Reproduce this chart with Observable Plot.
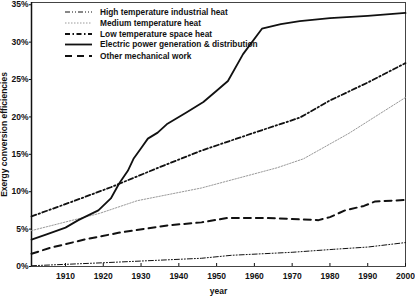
<!DOCTYPE html>
<html><head><meta charset="utf-8">
<script src="https://cdn.jsdelivr.net/npm/d3@7"></script>
<script src="https://cdn.jsdelivr.net/npm/@observablehq/plot@0.6"></script>
<style>
body{margin:0;background:#fff}
#c{position:relative;width:415px;height:305px}
#c svg{display:block}
#legend{position:absolute;left:0;top:0}
</style>
</head><body><div id="c"></div>
<script>
// Series names (legend order)
const seriesNames = ["High temperature industrial heat","Medium temperature heat","Low temperature space heat","Electric power generation & distribution","Other mechanical work"];

const highYears = [1901, 1920, 1946, 1954, 1970, 1981, 1990, 2000];
const highVals  = [0.1, 0.5, 1.1, 1.5, 1.9, 2.3, 2.6, 3.2];

const mediumYears = [1901, 1919, 1929, 1946, 1966, 1973, 1985, 2000];
const mediumVals  = [4.8, 7.1, 8.8, 10.5, 13.2, 14.4, 17.8, 22.6];

const lowYears = [1901, 1913, 1922, 1935, 1946, 1960, 1972, 1980, 1990, 2000];
const lowVals  = [6.7, 8.9, 10.6, 13.3, 15.5, 17.9, 19.9, 22.2, 24.6, 27.2];

const elecYears = [1901, 1905, 1910, 1913.4, 1918.7, 1922, 1924.2, 1926.5, 1928, 1930, 1931.8, 1934.4, 1937, 1942, 1946.5, 1950, 1953, 1957, 1962, 1967, 1972, 1980, 1990, 2000];
const elecVals  = [3.6, 4.3, 5.2, 6.2, 7.5, 9.1, 11.1, 12.8, 14.4, 15.8, 17.1, 17.9, 19.1, 20.6, 22.0, 23.5, 24.8, 28.4, 31.8, 32.4, 32.8, 33.2, 33.5, 33.9];

const otherYears = [1901, 1906, 1915, 1924, 1937, 1946, 1953, 1963, 1972, 1977, 1980, 1984, 1989, 1992, 2000];
const otherVals  = [1.7, 2.5, 3.6, 4.5, 5.5, 5.9, 6.5, 6.5, 6.3, 6.2, 6.6, 7.5, 8.1, 8.7, 8.9];

const xTicks = [1910, 1920, 1930, 1940, 1950, 1960, 1970, 1980, 1990, 2000];
const yTicks = [0, 5, 10, 15, 20, 25, 30, 35];

const styles = [
  {stroke: "#111", strokeWidth: 1, dash: "5,2,1,2,1,2"},
  {stroke: "#9a9a9a", strokeWidth: 1, dash: "1.5,1.5"},
  {stroke: "#111", strokeWidth: 1.8, dash: "5,2.5,1.5,2.5"},
  {stroke: "#111", strokeWidth: 1.8, dash: null},
  {stroke: "#111", strokeWidth: 2, dash: "7,5"}
];

const sets = [[highYears, highVals], [mediumYears, mediumVals], [lowYears, lowVals], [elecYears, elecVals], [otherYears, otherVals]];
const rows = sets.map(([ys, vs], i) => ys.map((y, j) => ({year: y, value: vs[j], series: seriesNames[i]})));

const lineMarks = rows.map((data, i) => Plot.line(data, {
  x: "year", y: "value",
  stroke: styles[i].stroke, strokeWidth: styles[i].strokeWidth,
  strokeDasharray: styles[i].dash || undefined
}));

const chart = Plot.plot({
  width: 415, height: 305,
  marginLeft: 31, marginRight: 10, marginTop: 2, marginBottom: 39,
  style: {fontFamily: "'Liberation Sans', Arial, sans-serif", fontWeight: "bold", fontSize: "8.5px", color: "#111", background: "#fff"},
  x: {domain: [1901, 2000]},
  y: {domain: [0, 35.3]},
  marks: [
    Plot.frame({stroke: "#444", strokeWidth: 1}),
    Plot.axisX({ticks: xTicks, tickFormat: d => String(d), tickSize: -3, tickPadding: 9, label: "year", labelAnchor: "center", labelOffset: 27, labelArrow: "none", fontSize: 8.5}),
    Plot.axisY({ticks: yTicks, tickFormat: d => d + "%", tickSize: 2, tickPadding: 1, label: "Exergy conversion efficiencies", labelAnchor: "center", labelOffset: 31, labelArrow: "none", fontSize: 8.5}),
    Plot.ruleX([1901], {stroke: "#111", strokeWidth: 1.5}),
    ...lineMarks
  ]
});
document.getElementById("c").appendChild(chart);

// Legend overlay
const lg = d3.select("#c").append("svg").attr("id", "legend").attr("width", 415).attr("height", 305);
const rowY = [12, 23, 34, 44.5, 56];
seriesNames.forEach((name, i) => {
  const g = lg.append("g").attr("transform", `translate(0,${rowY[i]})`);
  g.append("line").attr("x1", 65).attr("x2", 92).attr("y1", 0).attr("y2", 0)
    .attr("stroke", styles[i].stroke).attr("stroke-width", styles[i].strokeWidth)
    .attr("stroke-dasharray", styles[i].dash);
  g.append("text").attr("x", 100).attr("y", 0).attr("dy", "0.35em")
    .attr("font-family", "'Liberation Sans', Arial, sans-serif").attr("font-weight", "bold")
    .attr("font-size", 8.3).attr("fill", "#111").text(name);
});
</script>
</body></html>
